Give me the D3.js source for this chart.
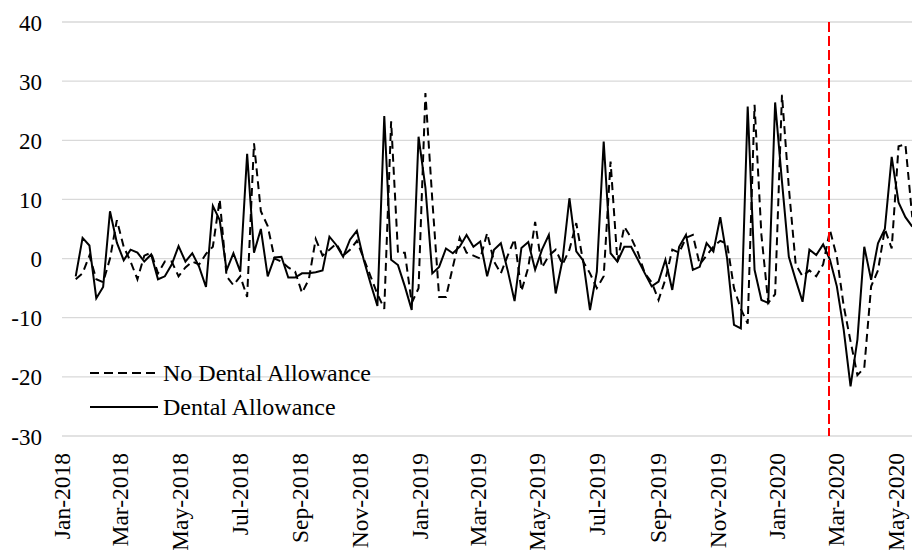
<!DOCTYPE html>
<html>
<head>
<meta charset="utf-8">
<script src="https://cdn.jsdelivr.net/npm/d3@7"></script>
<style>
  body { margin: 0; background: #fff; }
  text { font-family: "Liberation Serif", "Times New Roman", serif; fill: #000; }
</style>
</head>
<body>
<script>
var w = 912;
var h = 550;

// weekly series, first week starts 15 Jan 2018
var firstWeek = new Date(2018, 0, 15);

var noDental = [
  -3.5, -2.5, 0.5, -3.5, -4, 0, 6.5, 2, -0.5, -3.5, 0.5, 1, -2.5, -0.5, -0.5,
  -3, -1.5, -0.5, -1, 0.8, 2, 10, -3, -4.5, -3, -6.5, 19.5, 8, 5.5, 0,
  -0.5, -1.5, -2.2, -5.8, -3.5, 3.3, 0.5, 1.5, 2.5, 0.5, 1.5, 3, 0, -3, -6, -8.5, 23.2,
  1, 1, -7.5, -5, 28, 10, -6.5, -6.5, -1.4, 3.5, 1, 0.5, 0, 4.3, -0.5,
  -2.5, 0.5, 3.3, -5.5, -1.5, 6.2, -1.5, 0.5, 1.5, -1, 1.5, 6, -0.5, -2.5, -5, -3,
  16.4, -0.5, 5.4, 3.5, 1, -2.5, -4, -7, -3.5, 1.5, 1, 3.5, 4, -1, 0.5,
  2, 3, 2.5, -5, -8.5, -11, 26, 4, -7.5, -6, 27.7, 12, -1, -3, -2, -3,
  -1, 4.8, 0.3, -8, -14, -19.7, -18.5, -4.7, -2, 5, 1.7, 19, 19.3, 7
];

var dental = [
  -3, 3.5, 2.2, -6.7, -4.8, 8, 2.7, -0.3, 1.5, 1, -0.5, 0.7, -3.5, -3, -1,
  2.1, -0.5, 0.9, -1.4, -4.8, 8.9, 6.5, -2, 0.9, -2.2, 17.7, 1, 5, -3, 0.2,
  0.3, -3.2, -3.2, -2.5, -2.5, -2.3, -2, 3.7, 2.3, 0.3, 3.2, 4.7, -0.2, -4.2, -8, 24.1,
  -0.2, -1.1, -4.7, -8.7, 20.6, 12, -2.5, -1.4, 1.7, 0.9, 2, 4, 2, 2.9, -3, 1.5,
  2.6, -2, -7.2, 1.8, 2.8, -1.9, 1.5, 4, -5.9, -0.2, 10.2, 1.2, -0.3, -8.7, -2.2, 19.8,
  0.9, -0.5, 2, 2, -0.2, -2.5, -4.7, -3.9, -0.2, -5.3, 2, 4, -1.9, -1.4, 2.6,
  1.2, 7, 0, -11.2, -11.8, 25.7, -1.9, -7, -7.5, 26.4, 13, 0.3, -3.6, -7.3, 1.5, 0.6,
  2.4, -0.2, -4.7, -12, -21.6, -13.7, 2, -3.6, 2.6, 5, 17.2, 9.5, 7, 5.4
];

var eventDate = new Date(2020, 1, 23);
var yTicks = [-30, -20, -10, 0, 10, 20, 30, 40];
var seriesNames = ["No Dental Allowance", "Dental Allowance"];

var weeks = dental.map(function(d, i) { return d3.timeDay.offset(firstWeek, 7 * i); });

var plotLeft = 62, plotTop = 22, plotBottom = 436;

var xScale = d3.scaleTime()
    .domain([new Date(2018, 0, 1), new Date(2020, 4, 31)])
    .range([plotLeft, 925]);

var yScale = d3.scaleLinear()
    .domain([-30, 40])
    .range([plotBottom, plotTop]);

var svg = d3.select("body")
    .append("svg")
    .attr("width", w)
    .attr("height", h);

// gridlines
svg.append("g")
    .selectAll("line")
    .data(yTicks)
    .enter()
    .append("line")
    .attr("x1", plotLeft)
    .attr("x2", w)
    .attr("y1", function(d) { return yScale(d); })
    .attr("y2", function(d) { return yScale(d); })
    .attr("stroke", "#d9d9d9")
    .attr("stroke-width", 1.3);

// y axis labels (plain hyphen for negatives, as in the original)
var yAxis = svg.append("g")
    .attr("transform", "translate(" + (plotLeft - 20) + ",0)")
    .call(d3.axisLeft(yScale)
        .tickValues(yTicks)
        .tickFormat(function(d) { return String(d); })
        .tickSize(0)
        .tickPadding(0));
yAxis.select(".domain").remove();
yAxis.selectAll("text")
    .style("font-size", "23px")
    .style("font-family", "Liberation Serif, serif")
    .attr("dy", "0.35em");

// x axis labels
var xAxis = svg.append("g")
    .attr("transform", "translate(0," + plotBottom + ")")
    .call(d3.axisBottom(xScale)
        .ticks(d3.timeMonth.every(2))
        .tickFormat(d3.timeFormat("%b-%Y"))
        .tickSize(0));
xAxis.select(".domain").remove();
xAxis.selectAll("text")
    .style("font-size", "23.5px")
    .style("font-family", "Liberation Serif, serif")
    .attr("text-anchor", "end")
    .attr("transform", "rotate(-90)")
    .attr("x", -17)
    .attr("y", 0)
    .attr("dy", "0.33em");

var line = d3.line()
    .x(function(d, i) { return xScale(weeks[i]); })
    .y(function(d) { return yScale(d); });

svg.append("path")
    .datum(noDental)
    .attr("d", line)
    .attr("fill", "none")
    .attr("stroke", "#000")
    .attr("stroke-width", 2)
    .attr("stroke-dasharray", "8,5");

svg.append("path")
    .datum(dental)
    .attr("d", line)
    .attr("fill", "none")
    .attr("stroke", "#000")
    .attr("stroke-width", 2);

// event marker
svg.append("line")
    .attr("x1", xScale(eventDate))
    .attr("x2", xScale(eventDate))
    .attr("y1", yScale(40))
    .attr("y2", yScale(-30))
    .attr("stroke", "#ff0000")
    .attr("stroke-width", 2)
    .attr("stroke-dasharray", "10,4");

// legend
var legend = svg.append("g")
    .attr("transform", "translate(90,373)");

legend.selectAll("line")
    .data(seriesNames)
    .enter()
    .append("line")
    .attr("x1", 0)
    .attr("x2", 68)
    .attr("y1", function(d, i) { return i * 34; })
    .attr("y2", function(d, i) { return i * 34; })
    .attr("stroke", "#000")
    .attr("stroke-width", 2)
    .attr("stroke-dasharray", function(d, i) { return i === 0 ? "9,5" : null; });

legend.selectAll("text")
    .data(seriesNames)
    .enter()
    .append("text")
    .attr("x", 73)
    .attr("y", function(d, i) { return i * 34; })
    .attr("dy", "0.35em")
    .style("font-size", "24px")
    .text(function(d) { return d; });
</script>
</body>
</html>
